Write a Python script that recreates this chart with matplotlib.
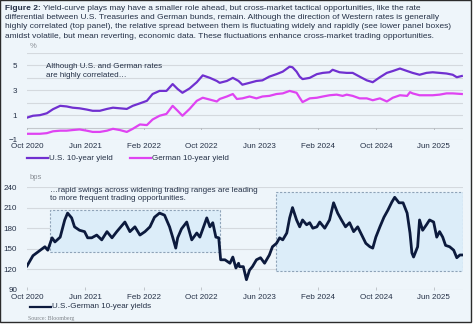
import matplotlib
matplotlib.use("Agg")
import matplotlib.pyplot as plt
import matplotlib.dates as mdates
import matplotlib.patches as mpatches
import pandas as pd

plt.rcParams['font.family'] = ['Liberation Sans', 'DejaVu Sans']

# ---------------- data ----------------
us_dates = ["2020-10-01","2020-10-26","2020-11-24","2020-12-23","2021-01-18","2021-02-17","2021-03-16",
            "2021-04-10","2021-05-09","2021-06-08","2021-07-03","2021-08-02","2021-09-01","2021-09-26",
            "2021-10-25","2021-11-23","2021-12-18","2022-01-17","2022-02-15","2022-03-11","2022-04-09",
            "2022-05-08","2022-06-03","2022-06-24","2022-07-14","2022-08-13","2022-09-12","2022-10-07",
            "2022-11-06","2022-12-05","2022-12-17","2023-01-16","2023-02-10","2023-03-06","2023-03-22",
            "2023-04-21","2023-05-20","2023-06-14","2023-07-13","2023-08-12","2023-09-07","2023-10-06",
            "2023-10-18","2023-11-04","2023-11-17","2023-11-29","2023-12-29","2024-01-28","2024-02-22",
            "2024-03-21","2024-04-03","2024-05-02","2024-06-01","2024-06-26","2024-07-25","2024-08-24",
            "2024-09-18","2024-10-18","2024-11-16","2024-12-11","2025-01-10","2025-02-09","2025-03-04",
            "2025-04-02","2025-05-01","2025-05-27","2025-06-25","2025-07-24","2025-08-19","2025-09-05",
            "2025-09-26"]
us_yield = [0.8,0.95,1.0,1.15,1.48,1.75,1.7,
            1.6,1.55,1.45,1.35,1.35,1.5,1.6,
            1.55,1.5,1.75,1.95,2.15,2.7,2.95,
            2.95,3.5,3.1,2.8,3.15,3.65,4.2,
            4.0,3.75,3.6,3.75,4.0,3.75,3.45,
            3.6,3.75,3.8,4.1,4.3,4.5,4.9,
            4.85,4.5,4.1,3.9,4.0,4.3,4.4,
            4.45,4.65,4.45,4.4,4.4,4.1,3.8,
            3.65,4.05,4.4,4.55,4.75,4.55,4.4,
            4.25,4.4,4.45,4.4,4.35,4.25,4.05,
            4.15]

de_dates = ["2020-10-01","2020-10-26","2020-11-24","2020-12-23","2021-01-18","2021-02-17","2021-03-16",
            "2021-04-10","2021-05-09","2021-06-08","2021-07-03","2021-08-02","2021-09-01","2021-09-26",
            "2021-10-25","2021-11-23","2021-12-18","2022-01-17","2022-02-15","2022-03-11","2022-04-09",
            "2022-05-08","2022-06-03","2022-06-24","2022-07-14","2022-08-13","2022-09-12","2022-10-07",
            "2022-11-06","2022-12-05","2022-12-17","2023-01-16","2023-02-10","2023-02-27","2023-03-22",
            "2023-04-21","2023-05-20","2023-06-14","2023-07-13","2023-08-12","2023-09-07","2023-10-06",
            "2023-11-04","2023-11-17","2023-11-29","2023-12-29","2024-01-28","2024-02-22","2024-03-21",
            "2024-04-20","2024-05-15","2024-06-01","2024-06-26","2024-07-25","2024-08-24","2024-09-18",
            "2024-10-18","2024-11-16","2024-12-11","2025-01-10","2025-02-09","2025-02-21","2025-03-04",
            "2025-04-02","2025-05-01","2025-05-27","2025-06-25","2025-07-24","2025-08-19","2025-09-26"]
de_yield = [-0.5,-0.5,-0.5,-0.45,-0.3,-0.25,-0.25,
            -0.2,-0.15,-0.25,-0.35,-0.35,-0.25,-0.1,
            -0.2,-0.35,-0.1,0.25,0.2,0.65,0.95,
            1.1,1.75,1.35,0.95,1.5,2.15,2.4,
            2.25,2.1,2.3,2.5,2.7,2.3,2.35,
            2.5,2.35,2.5,2.55,2.7,2.75,2.95,
            2.8,2.4,2.05,2.35,2.4,2.5,2.6,
            2.65,2.55,2.65,2.55,2.35,2.35,2.2,
            2.35,2.1,2.4,2.6,2.55,2.85,2.75,
            2.6,2.6,2.6,2.65,2.75,2.75,2.7]

spread_dates = ["2020-10-01","2020-10-26","2020-12-15","2020-12-27","2021-01-14","2021-01-26","2021-02-17",
                "2021-03-08","2021-03-20","2021-04-06","2021-04-18","2021-05-09","2021-05-30","2021-06-12",
                "2021-06-29","2021-07-20","2021-08-10","2021-09-01","2021-09-22","2021-10-12","2021-11-15",
                "2021-12-06","2021-12-27","2022-01-17","2022-02-07","2022-02-28","2022-03-19","2022-04-09",
                "2022-04-30","2022-05-21","2022-06-03","2022-06-16","2022-06-24","2022-07-10","2022-08-01",
                "2022-08-22","2022-09-12","2022-09-25","2022-10-24","2022-11-06","2022-11-18","2022-12-01",
                "2022-12-13","2022-12-21","2023-01-08","2023-01-29","2023-02-10","2023-02-23","2023-03-06",
                "2023-03-10","2023-03-26","2023-04-08","2023-04-21","2023-05-03","2023-05-20","2023-06-06",
                "2023-06-23","2023-07-13","2023-07-26","2023-08-12","2023-08-25","2023-09-07","2023-09-24",
                "2023-10-06","2023-10-18","2023-11-04","2023-11-17","2023-11-29","2023-12-16","2023-12-29",
                "2024-01-11","2024-01-28","2024-02-09","2024-03-01","2024-03-21","2024-04-07","2024-04-24",
                "2024-05-10","2024-05-27","2024-06-13","2024-06-30","2024-07-17","2024-08-03","2024-08-20",
                "2024-09-06","2024-09-18","2024-10-01","2024-10-18","2024-11-04","2024-11-20","2024-12-07",
                "2024-12-19","2025-01-06","2025-01-23","2025-02-09","2025-02-21","2025-03-01","2025-03-08",
                "2025-03-25","2025-04-02","2025-04-15","2025-05-01","2025-05-14","2025-05-31","2025-06-13",
                "2025-06-25","2025-07-08","2025-07-20","2025-08-06","2025-08-23","2025-09-05","2025-09-18",
                "2025-09-26"]
spread_bps = [125,140,153,148,166,160,167,
              192,202,195,182,177,175,166,
              166,170,163,175,166,175,189,
              175,182,170,175,182,196,202,
              199,182,167,151,166,179,189,
              163,173,167,195,182,188,167,
              166,134,134,129,138,122,129,
              124,124,105,119,124,134,137,
              129,141,153,158,166,163,173,
              195,210,192,182,192,185,188,
              180,182,189,180,192,217,202,
              192,182,188,175,182,170,158,
              153,151,167,182,196,206,218,
              225,217,217,202,173,144,138,
              153,192,177,185,192,189,167,
              175,167,155,153,148,137,141,
              141]

box1 = ("2021-01-06", "2022-12-18", 145, 207)
box2 = ("2023-08-08", "2025-10-01", 118, 233)

top_ticks = [-1, 1, 3, 5]
top_grid = [-1, 1, 2, 3, 4, 5, 6]
bottom_ticks = [90, 120, 150, 180, 210, 240]
x_tick_dates = ["2020-10-01","2021-06-01","2022-02-01","2022-10-01","2023-06-01","2024-02-01","2024-10-01","2025-06-01"]
x_tick_labels = ["Oct 2020","Jun 2021","Feb 2022","Oct 2022","Jun 2023","Feb 2024","Oct 2024","Jun 2025"]

# ---------------- figure ----------------
W, H = 473, 325
BG = "#eef5fa"
fig = plt.figure(figsize=(W/100, H/100), dpi=100, facecolor="white")
bgrect = mpatches.Rectangle((0, 1-322/H), 471/W, 322/H, transform=fig.transFigure,
                            facecolor=BG, edgecolor="#2b2b2b", lw=1.0, zorder=-10)
fig.patches.append(bgrect)

TXT = "#243046"
GRID = "#d4d9de"
xmin = pd.Timestamp("2020-10-01")
xmax = pd.Timestamp("2025-10-01")
xt = pd.to_datetime(x_tick_dates)

def fy(py):
    return 1 - py/H

def fx(px):
    return px/W

# title
title_lines = [
    "Yield-curve plays may have a smaller role ahead, but cross-market tactical opportunities, like the rate",
    "differential between U.S. Treasuries and German bunds, remain. Although the direction of Western rates is generally",
    "highly correlated (top panel), the relative spread between them is fluctuating widely and rapidly (see lower panel boxes)",
    "amidst volatile, but mean reverting, economic data. These fluctuations enhance cross-market trading opportunities.",
]
tfs = 6.05
t0 = fig.text(fx(5), fy(8.3), "Figure 2:", fontsize=tfs, fontweight="bold", color=TXT, va="center", ha="left")
fig.canvas.draw()
r = fig.canvas.get_renderer()
bb = t0.get_window_extent(renderer=r)
fig.text(bb.x1/W + 2.5/W, fy(8.3), title_lines[0], fontsize=tfs, color=TXT, va="center", ha="left")
for i, line in enumerate(title_lines[1:]):
    fig.text(fx(5), fy(17.6 + 9.3*i), line, fontsize=tfs, color=TXT, va="center", ha="left")

# ---- top axes ----
ax1 = fig.add_axes([fx(27), fy(140), fx(463)-fx(27), fy(53)-fy(140)])
ax1.set_facecolor("none")
ax1.plot(pd.to_datetime(us_dates), us_yield, color="#7030d0", lw=1.6, solid_joinstyle="round")
ax1.plot(pd.to_datetime(de_dates), de_yield, color="#df43f2", lw=1.6, solid_joinstyle="round")
ax1.set_xlim(xmin, xmax)
ax1.set_ylim(-1, 6)
for v in top_grid:
    ax1.axhline(v, color=GRID, lw=0.8, zorder=0)
ax1.axhline(0, color="#c3c8cd", lw=0.8, zorder=0)
for d in xt:
    ax1.plot([d, d], [0, -0.12], color="#b8bdc2", lw=0.7, zorder=0)
ax1.set_yticks(top_ticks)
ax1.set_xticks(xt)
ax1.set_xticklabels(x_tick_labels)
for s in ax1.spines.values():
    s.set_visible(False)
ax1.tick_params(axis="both", length=0, labelsize=5.8, colors=TXT)
ax1.tick_params(axis="y", pad=7)
ax1.tick_params(axis="x", pad=2.5)
ax1.text(0.006, 1.04, "%", transform=ax1.transAxes, fontsize=5.5, color="#8a8f96", ha="left", va="bottom")
ax1.text(pd.Timestamp("2020-12-20"), 4.55, "Although U.S. and German rates\nare highly correlated\u2026",
         fontsize=5.8, color=TXT, ha="left", va="center", linespacing=1.25)

# top legend
fig.lines.append(plt.Line2D([fx(27), fx(48)], [fy(158), fy(158)], transform=fig.transFigure, color="#7030d0", lw=1.6))
fig.text(fx(49), fy(158), "U.S. 10-year yield", fontsize=5.8, color=TXT, va="center")
fig.lines.append(plt.Line2D([fx(130), fx(151)], [fy(158), fy(158)], transform=fig.transFigure, color="#df43f2", lw=1.6))
fig.text(fx(152), fy(158), "German 10-year yield", fontsize=5.8, color=TXT, va="center")

# ---- bottom axes ----
ax2 = fig.add_axes([fx(27), fy(290), fx(463)-fx(27), fy(187)-fy(290)])
ax2.set_facecolor("none")
for (d0, d1, y0, y1) in [box1, box2]:
    t0_, t1_ = mdates.date2num(pd.Timestamp(d0)), mdates.date2num(pd.Timestamp(d1))
    ax2.add_patch(mpatches.Rectangle((t0_, y0), t1_-t0_, y1-y0, facecolor="#dcedf9",
                                     edgecolor="#8ea3b8", lw=0.8, ls=(0, (2, 1.5)), zorder=1))
ax2.plot(pd.to_datetime(spread_dates), spread_bps, color="#0c1a3d", lw=2.0, solid_joinstyle="round", zorder=3)
ax2.set_xlim(xmin, xmax)
ax2.set_ylim(90, 240)
for v in bottom_ticks:
    ax2.axhline(v, color=GRID, lw=0.8, zorder=0)
ax2.set_yticks(bottom_ticks)
ax2.set_xticks(xt)
ax2.set_xticklabels(x_tick_labels)
for s in ax2.spines.values():
    s.set_visible(False)
ax2.tick_params(axis="y", length=0, labelsize=5.8, colors=TXT, pad=7)
ax2.tick_params(axis="x", length=2, width=0.6, color="#b8bdc2", direction="in", labelsize=5.8, colors=TXT, pad=3)
ax2.text(0.006, 1.06, "bps", transform=ax2.transAxes, fontsize=5.5, color="#8a8f96", ha="left", va="bottom")
ax2.text(pd.Timestamp("2021-01-05"), 229, "\u2026rapid swings across widening trading ranges are leading\nto more frequent trading opportunities.",
         fontsize=5.8, color=TXT, ha="left", va="center", linespacing=1.25, zorder=4)

# bottom legend
fig.lines.append(plt.Line2D([fx(30), fx(51)], [fy(307), fy(307)], transform=fig.transFigure, color="#0c1a3d", lw=1.6))
fig.text(fx(52), fy(307), "U.S.-German 10-year yields", fontsize=5.8, color=TXT, va="center")
fig.text(fx(28), fy(318.5), "Source: Bloomberg", fontsize=4.2, color="#7d8288", va="center", family=["Liberation Serif", "DejaVu Serif"])

fig.savefig("out.png", dpi=100, facecolor="white")
